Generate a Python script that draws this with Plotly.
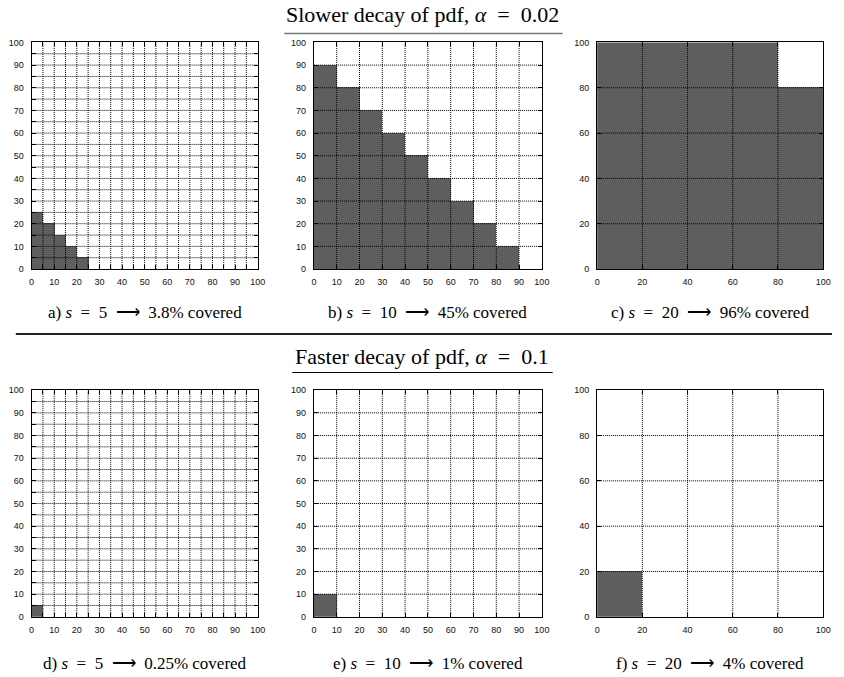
import plotly.graph_objects as go

W, H = 844, 677

# ---- data ----
panel_ids = ["a", "b", "c", "d", "e", "f"]
cell_sizes = [5, 10, 20, 5, 10, 20]
column_heights = [
    [25, 20, 15, 10, 5],
    [90, 80, 70, 60, 50, 40, 30, 20, 10],
    [100, 100, 100, 100, 80],
    [5],
    [10],
    [20],
]
SP = "\u2002"
AR = "\u27f6"
captions = [
    f"a) <i>s</i>{SP}={SP}5{SP}{AR}{SP}3.8% covered",
    f"b) <i>s</i>{SP}={SP}10{SP}{AR}{SP}45% covered",
    f"c) <i>s</i>{SP}={SP}20{SP}{AR}{SP}96% covered",
    f"d) <i>s</i>{SP}={SP}5{SP}{AR}{SP}0.25% covered",
    f"e) <i>s</i>{SP}={SP}10{SP}{AR}{SP}1% covered",
    f"f) <i>s</i>{SP}={SP}20{SP}{AR}{SP}4% covered",
]
row_titles = [f"Slower decay of pdf, <i>α</i>{SP}={SP}0.02",
              f"Faster decay of pdf, <i>α</i>{SP}={SP}0.1"]
axis_max = 100

# ---- layout geometry (pixels) ----
col_px = [(29, 258), (315, 546), (602, 831)]
row_px = [(38, 268), (391, 621)]
caption_y_px = [312, 668]
title_y_px = [10, 357]

def px_x(v):
    return v / W

def px_y(v):
    return 1 - v / H

fig = go.Figure()
layout = dict(
    width=W, height=H, margin=dict(l=0, r=0, t=0, b=0),
    paper_bgcolor="white", plot_bgcolor="white", showlegend=False,
    bargap=0,
)

tick_font = dict(family="Liberation Sans, Arial, sans-serif", size=9, color="#111")
serif = "Liberation Serif, Times New Roman, serif"
annotations = []
shapes = []

for i, pid in enumerate(panel_ids):
    r, c = divmod(i, 3)
    s = cell_sizes[i]
    hts = column_heights[i]
    centers = [s * (k + 0.5) for k in range(len(hts))]
    n = i + 1
    xa, ya = f"x{n}", f"y{n}"
    xdom = [px_x(col_px[c][0]), px_x(col_px[c][1])]
    ydom = [px_y(row_px[r][1]), px_y(row_px[r][0])]

    fig.add_trace(go.Bar(x=centers, y=hts, width=[s] * len(hts), base=0,
                         marker=dict(color="#5e5e5e", line=dict(width=0)),
                         xaxis=xa, yaxis=ya, hoverinfo="skip"))

    tickvals = list(range(0, axis_max + 1, s))
    if s == 5:
        ticktext = [str(v) if v % 10 == 0 else "" for v in tickvals]
    else:
        ticktext = [str(v) for v in tickvals]

    ax = dict(range=[0, axis_max], autorange=False, fixedrange=True,
              tickmode="array", tickvals=tickvals, ticktext=ticktext,
              showgrid=False,
              showline=True, linecolor="#000", linewidth=1, mirror="ticks",
              ticks="inside", ticklen=4, tickwidth=1, tickcolor="#000",
              zeroline=False, tickfont=tick_font, layer="above traces")
    layout[f"xaxis{n}"] = dict(ax, domain=xdom, anchor=ya, ticklabelstandoff=4)
    layout[f"yaxis{n}"] = dict(ax, domain=ydom, anchor=xa, ticklabelstandoff=5)

    # dotted grid drawn above the filled cells, one line per interior tick
    for v in tickvals[1:-1]:
        shapes.append(dict(type="line", xref=xa, yref=ya, x0=v, x1=v, y0=0, y1=axis_max,
                           layer="above", line=dict(color="#000", width=1, dash="1px,1px")))
        shapes.append(dict(type="line", xref=xa, yref=ya, x0=0, x1=axis_max, y0=v, y1=v,
                           layer="above", line=dict(color="#000", width=1, dash="1px,1px")))

    annotations.append(dict(
        text=captions[i], xref="paper", yref="paper",
        x=(xdom[0] + xdom[1]) / 2, y=px_y(caption_y_px[r]),
        xanchor="center", yanchor="middle", showarrow=False,
        font=dict(family=serif, size=17, color="#000")))

for r in range(2):
    annotations.append(dict(
        text=row_titles[r], xref="paper", yref="paper",
        x=px_x(425), y=px_y(title_y_px[r]), xanchor="center", yanchor="middle",
        showarrow=False,
        font=dict(family=serif, size=22, color="#000")))

# title underlines and row separator
shapes.append(dict(type="line", xref="paper", yref="paper",
                   x0=px_x(285), x1=px_x(567), y0=px_y(29), y1=px_y(29),
                   line=dict(color="#777", width=1.5)))
shapes.append(dict(type="line", xref="paper", yref="paper",
                   x0=px_x(293), x1=px_x(557), y0=px_y(373), y1=px_y(373),
                   line=dict(color="#000", width=1)))
shapes.append(dict(type="line", xref="paper", yref="paper",
                   x0=px_x(13), x1=px_x(840), y0=px_y(334), y1=px_y(334),
                   line=dict(color="#222", width=2)))

layout["annotations"] = annotations
layout["shapes"] = shapes
fig.update_layout(**layout)
fig.write_html("out.html", config={"displayModeBar": False},
               post_script="document.body.style.margin='0px';")
